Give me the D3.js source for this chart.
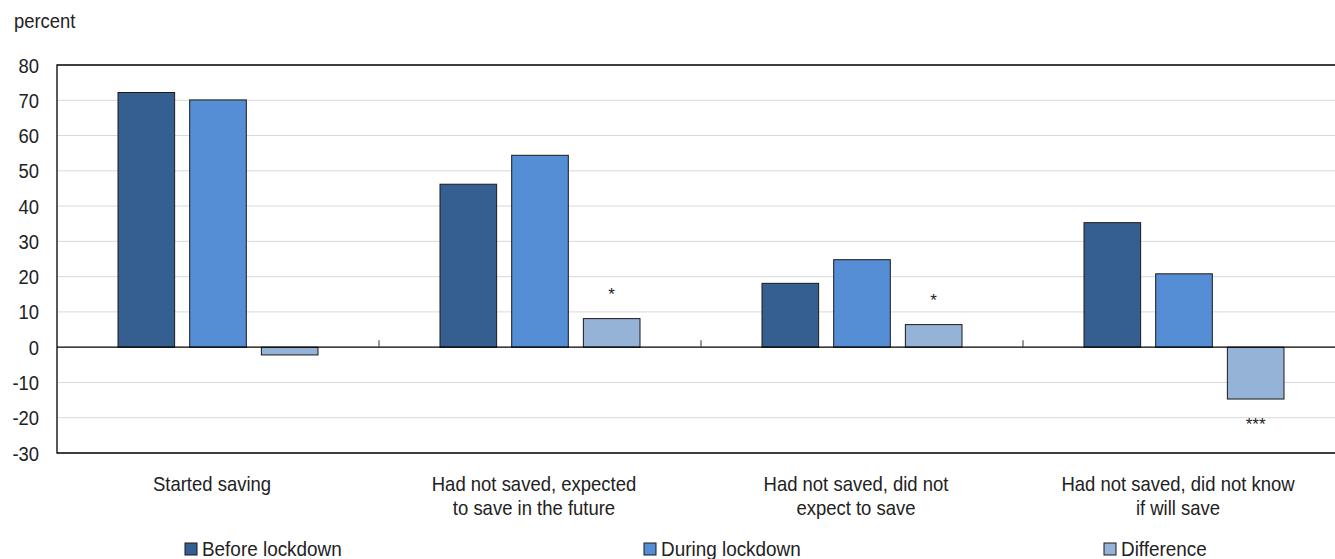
<!DOCTYPE html>
<html>
<head>
<meta charset="utf-8">
<script src="https://cdn.jsdelivr.net/npm/d3@7"></script>
<style>
  body { margin: 0; background: #fff; }
  svg { display: block; font-family: "Liberation Sans", Arial, sans-serif; }
</style>
</head>
<body>
<svg width="1335" height="559"></svg>
<script>
//categories, one entry per text line
const categories = [
    ["Started saving"],
    ["Had not saved, expected", "to save in the future"],
    ["Had not saved, did not", "expect to save"],
    ["Had not saved, did not know", "if will save"]
];
const series = ["Before lockdown", "During lockdown", "Difference"];

//values
const before_vals = [72.2, 46.2, 18.1, 35.3];
const during_vals = [70.1, 54.4, 24.8, 20.8];
const diff_vals   = [-2.2, 8.1, 6.4, -14.7];
const signif      = ["", "*", "*", "***"];

const y_ticks = [-30, -20, -10, 0, 10, 20, 30, 40, 50, 60, 70, 80];

const colors = d3.scaleOrdinal()
    .domain(series)
    .range(["#365f91", "#558ed5", "#95b3d7"]);

//plot box
const plot_left = 57, plot_right = 1345, plot_top = 65, plot_bottom = 453;

const svg = d3.select("svg");

//squeeze text horizontally, the original uses a narrow font
function condense(sel, k) {
    sel.each(function() {
        const w = this.getComputedTextLength();
        if (w > 0) {
            d3.select(this)
                .attr("textLength", w * k)
                .attr("lengthAdjust", "spacingAndGlyphs");
        }
    });
}

const x0 = d3.scaleBand()
    .domain(d3.range(categories.length))
    .range([plot_left, plot_right]);

const x1 = d3.scaleBand()
    .domain(series)
    .range([61, x0.bandwidth() - 61])
    .paddingInner(0.21);

const y = d3.scaleLinear()
    .domain([-30, 80])
    .range([plot_bottom, plot_top]);

//gridlines
svg.append("g")
    .selectAll("line")
    .data(y_ticks.filter(t => t !== 0 && t !== 80 && t !== -30))
    .enter()
    .append("line")
    .attr("x1", plot_left)
    .attr("x2", plot_right)
    .attr("y1", d => y(d))
    .attr("y2", d => y(d))
    .attr("stroke", "#d9d9d9")
    .attr("stroke-width", 1);

//y tick labels
svg.append("g")
    .selectAll("text")
    .data(y_ticks)
    .enter()
    .append("text")
    .attr("x", 39)
    .attr("y", d => y(d) + 7.5)
    .attr("text-anchor", "end")
    .attr("font-size", "20px")
    .attr("fill", "#222")
    .text(d => d)
    .call(condense, 0.92);

svg.append("text")
    .attr("x", 14)
    .attr("y", 28)
    .attr("font-size", "20px")
    .attr("fill", "#222")
    .text("percent")
    .call(condense, 0.92);

//bars
const rows = categories.map((c, i) => [
    { s: series[0], v: before_vals[i] },
    { s: series[1], v: during_vals[i] },
    { s: series[2], v: diff_vals[i] }
]);

const groups = svg.selectAll(".grp")
    .data(rows)
    .enter()
    .append("g")
    .attr("class", "grp")
    .attr("transform", (d, i) => `translate(${x0(i)}, 0)`);

groups.selectAll("rect")
    .data(d => d)
    .enter()
    .append("rect")
    .attr("x", d => x1(d.s))
    .attr("y", d => y(Math.max(0, d.v)))
    .attr("width", x1.bandwidth())
    .attr("height", d => Math.abs(y(d.v) - y(0)))
    .attr("fill", d => colors(d.s))
    .attr("stroke", "#1a1a1a")
    .attr("stroke-width", 1);

//significance stars
groups.append("text")
    .attr("x", x1(series[2]) + x1.bandwidth() / 2)
    .attr("y", (d, i) => diff_vals[i] >= 0 ? y(diff_vals[i]) - 19 : y(diff_vals[i]) + 31)
    .attr("text-anchor", "middle")
    .attr("font-size", "17px")
    .attr("fill", "#222")
    .text((d, i) => signif[i]);

//frame
svg.append("path")
    .attr("d", `M${plot_right},${plot_top}H${plot_left}V${plot_bottom}H${plot_right}`)
    .attr("fill", "none")
    .attr("stroke", "#000")
    .attr("stroke-width", 1.3);

//zero line and category ticks
svg.append("line")
    .attr("x1", plot_left).attr("x2", plot_right)
    .attr("y1", y(0)).attr("y2", y(0))
    .attr("stroke", "#000")
    .attr("stroke-width", 1.3);

svg.append("g")
    .selectAll("line")
    .data(d3.range(1, categories.length))
    .enter()
    .append("line")
    .attr("x1", d => x0(d))
    .attr("x2", d => x0(d))
    .attr("y1", y(0))
    .attr("y2", y(0) - 7)
    .attr("stroke", "#333")
    .attr("stroke-width", 1);

//category labels, one text per line
const label_lines = categories.flatMap((c, i) => c.map((t, j) => ({ t, i, j })));

svg.append("g")
    .selectAll("text")
    .data(label_lines)
    .enter()
    .append("text")
    .attr("x", d => x0(d.i) + x0.bandwidth() / 2 - 6)
    .attr("y", d => 491 + d.j * 24)
    .attr("text-anchor", "middle")
    .attr("font-size", "21px")
    .attr("fill", "#222")
    .text(d => d.t)
    .call(condense, 0.88);

//legend
const legend_x = [185, 644, 1104];
series.forEach((s, i) => {
    svg.append("rect")
        .attr("x", legend_x[i])
        .attr("y", 543)
        .attr("width", 12)
        .attr("height", 12)
        .attr("fill", colors(s))
        .attr("stroke", "#1a1a1a")
        .attr("stroke-width", 1);
    svg.append("text")
        .attr("x", legend_x[i] + 17)
        .attr("y", 556)
        .attr("font-size", "21px")
        .attr("fill", "#222")
        .text(s)
        .call(condense, 0.9);
});
</script>
</body>
</html>
